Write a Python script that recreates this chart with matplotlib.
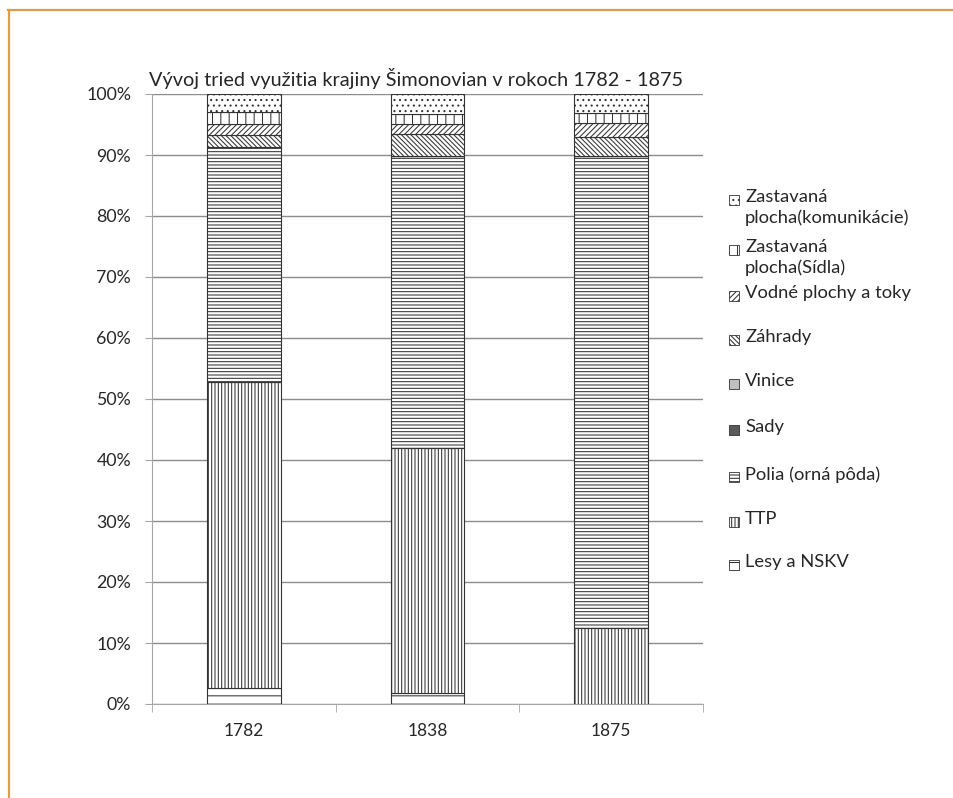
import numpy as np
import matplotlib.pyplot as plt
from matplotlib.patches import Rectangle
from matplotlib.lines import Line2D
from matplotlib.ticker import PercentFormatter

plt.rcParams['font.family'] = ['Lato', 'DejaVu Sans']
plt.rcParams['hatch.linewidth'] = 0.75

# Daten (Anteile in %)
years = ["1782", "1838", "1875"]
series = [
    "Lesy a NSKV",
    "TTP",
    "Polia (orná pôda)",
    "Sady",
    "Vinice",
    "Záhrady",
    "Vodné plochy a toky",
    "Zastavaná\nplocha(Sídla)",
    "Zastavaná\nplocha(komunikácie)",
]
lesy = [2.6, 1.8, 0.0]
ttp = [50.2, 40.2, 12.4]
polia = [38.5, 47.9, 77.5]
sady = [0.0, 0.0, 0.0]
vinice = [0.0, 0.0, 0.0]
zahrady = [2.0, 3.5, 3.0]
vodne = [1.8, 1.7, 2.3]
sidla = [1.9, 1.6, 1.7]
komunikacie = [3.0, 3.3, 3.1]
values = [lesy, ttp, polia, sady, vinice, zahrady, vodne, sidla, komunikacie]

# Stil je Serie
hatches = ["--", "|||||", "-----", None, None, "\\\\\\\\\\\\\\", "//////", "||", "..."]
faces = ["white", "white", "white", "#595959", "#bfbfbf", "white", "white", "white", "white"]

W, H = 954, 798
fig = plt.figure(figsize=(W / 100, H / 100), dpi=100)
ax = fig.add_axes([152 / W, 1 - 704 / H, 551 / W, 610 / H])

x = np.arange(len(years))
bottom = np.zeros(len(years))
totals = np.sum(values, axis=0)
for vals, h, fc in zip(values, hatches, faces):
    frac = np.array(vals) / totals
    ax.bar(x, frac, 0.4, bottom=bottom, color=fc, edgecolor="#333333",
           hatch=h, linewidth=0.8, zorder=3)
    bottom += frac

ax.set_xlim(-0.5, 2.5)
ax.set_ylim(0, 1)
ax.set_yticks(np.arange(0, 1.01, 0.1))
ax.yaxis.set_major_formatter(PercentFormatter(1.0, decimals=0))
ax.set_xticks(x)
ax.set_xticklabels(years)
ax.set_xticks([-0.5, 0.5, 1.5, 2.5], minor=True)
ax.tick_params(axis="x", which="major", length=0, pad=14, labelsize=12.5, labelcolor="#262626")
ax.tick_params(axis="x", which="minor", length=6, color="#a6a6a6")
ax.tick_params(axis="y", length=5, color="#a6a6a6", labelsize=12.8, labelcolor="#262626", pad=10)
ax.grid(axis="y", color="#8c8c8c", linewidth=1, zorder=0)
for s in ["top", "right"]:
    ax.spines[s].set_visible(False)
for s in ["left", "bottom"]:
    ax.spines[s].set_color("#a6a6a6")
ax.set_title("Vývoj tried využitia krajiny Šimonovian v rokoch 1782 - 1875",
             fontsize=14.3, color="#262626", pad=6, x=0.48)

# Legende manuell (Excel-artig)
slot_y = [200, 250, 296, 340, 384, 430, 477, 522, 565]
for i, k in enumerate(range(len(series) - 1, -1, -1)):
    yc = slot_y[i]
    fig.add_artist(Rectangle(((729) / W, 1 - (yc + 5) / H), 10 / W, 10 / H,
                             transform=fig.transFigure, facecolor=faces[k],
                             edgecolor="#333333", hatch=hatches[k], linewidth=0.6))
    fig.text(745 / W, 1 - (yc - 11) / H, series[k], fontsize=13.2, color="#262626",
             va="top", ha="left", linespacing=1.3)

# Rahmen
fig.add_artist(Line2D([8 / W, 1], [1 - 10 / H, 1 - 10 / H], transform=fig.transFigure,
                      color="#e39b4a", linewidth=1.6))
fig.add_artist(Line2D([9 / W, 9 / W], [0, 1 - 10 / H], transform=fig.transFigure,
                      color="#e39b4a", linewidth=1.6))

fig.savefig("out.png", dpi=100, facecolor="white")
